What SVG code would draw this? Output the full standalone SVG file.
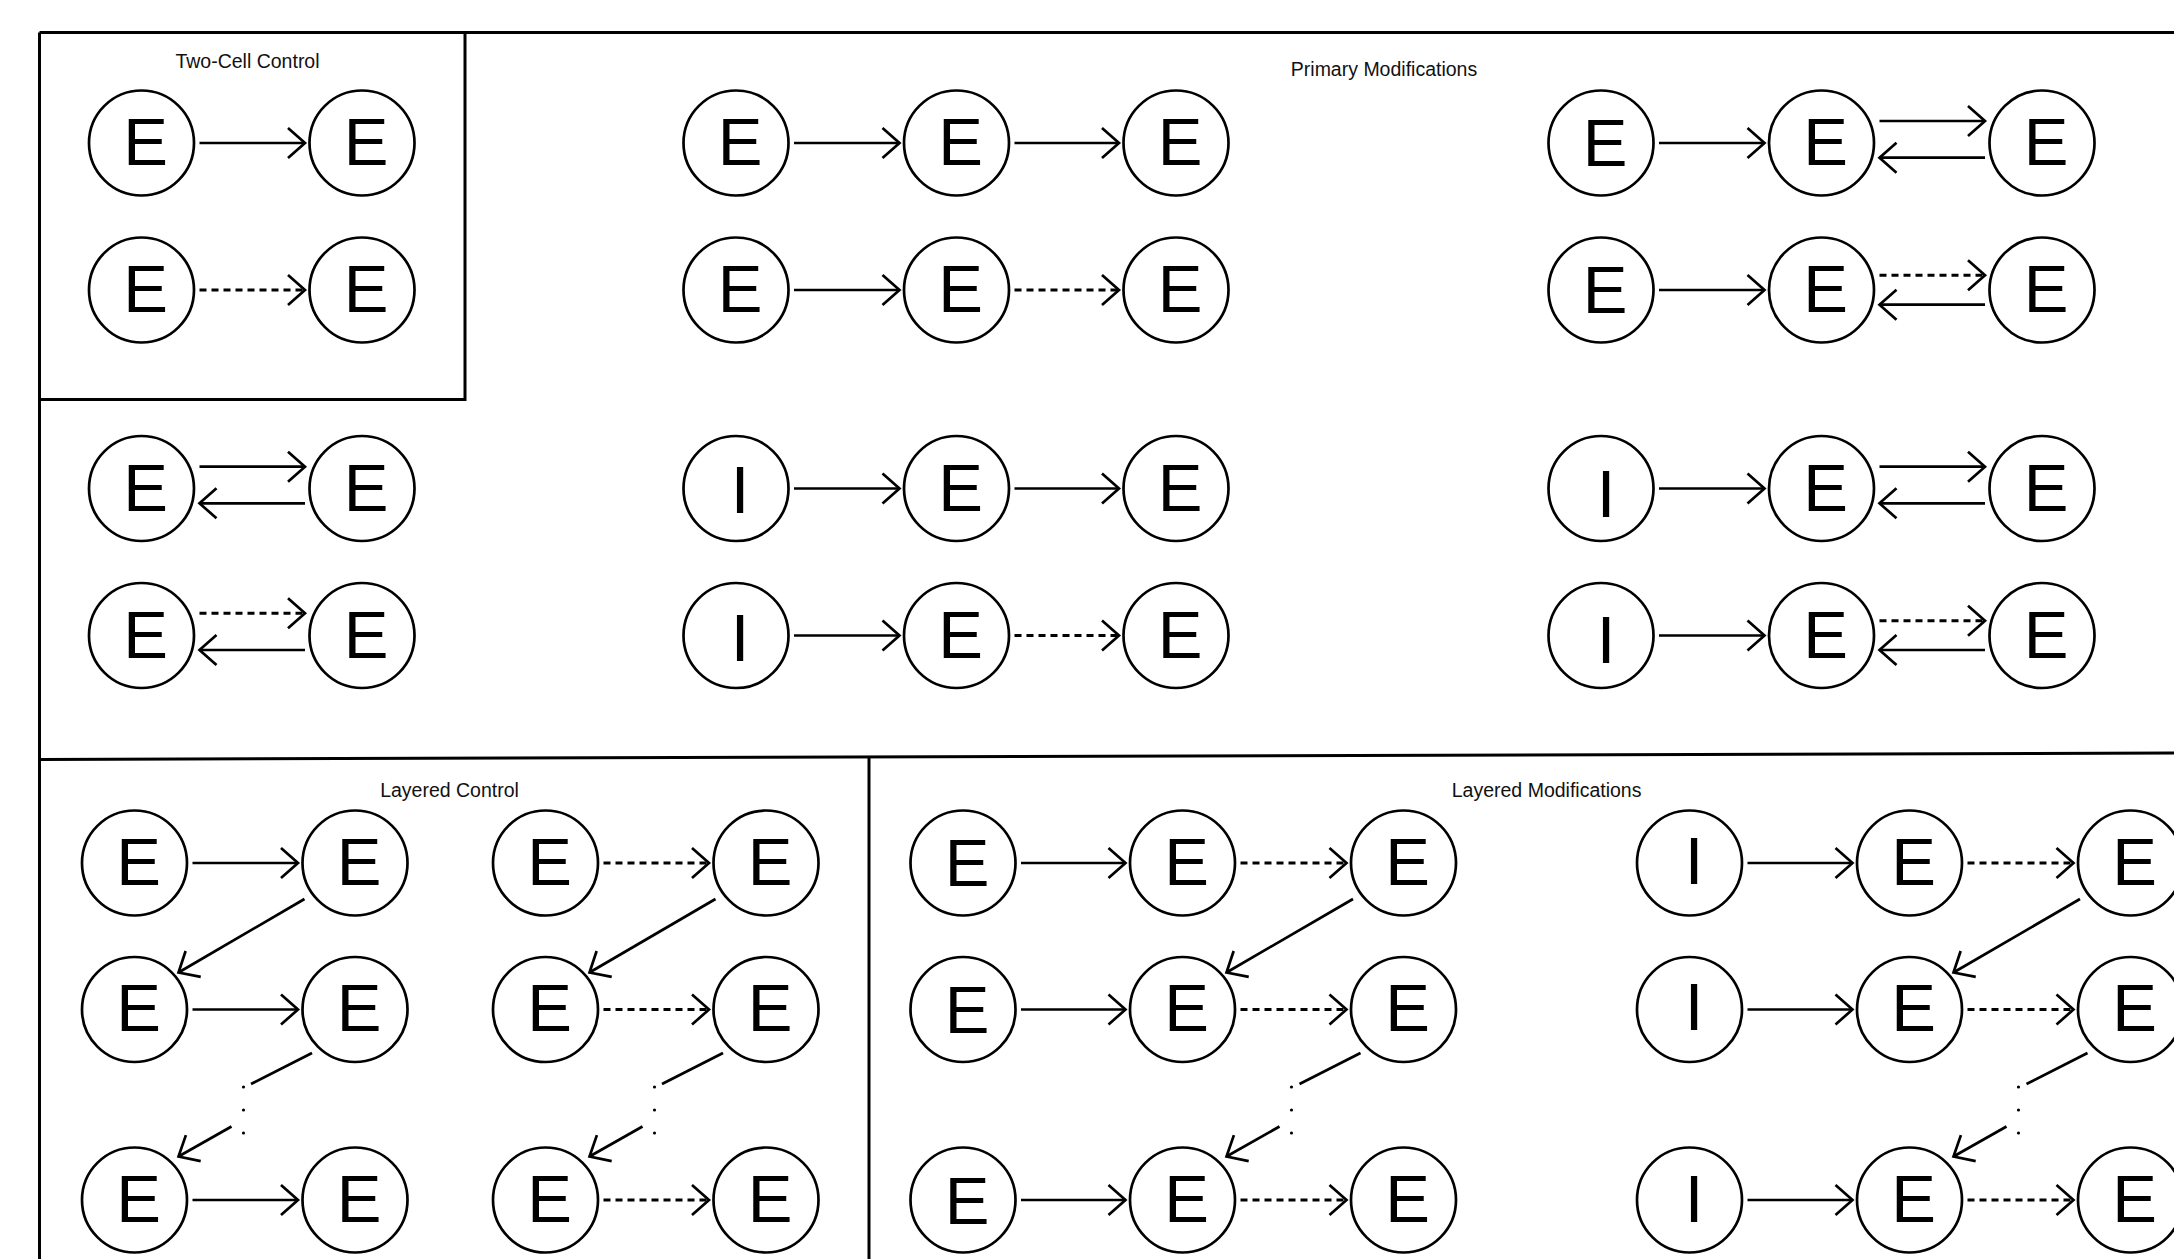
<svg xmlns="http://www.w3.org/2000/svg" width="2174" height="1259" viewBox="0 0 2174 1259">
  <style>
    .frame { fill: none; stroke: #000; stroke-width: 3; }
    .title { font-family: "Liberation Sans", Arial, sans-serif; font-size: 19.5px; fill: #111; text-anchor: middle; }
    .node circle { fill: #fff; stroke: #000; stroke-width: 2.7; }
    .node text { font-family: "Liberation Sans", Arial, sans-serif; font-size: 67px; fill: #000; text-anchor: middle; }
    .edge { fill: none; stroke: #000; stroke-width: 2.7; marker-end: url(#arr); }
    .dash { stroke-dasharray: 7 5; stroke-width: 2.9; }
    .plain { fill: none; stroke: #000; stroke-width: 2.7; }
    .dot { fill: #000; }
  </style>
  <defs>
    <marker id="arr" markerUnits="userSpaceOnUse" orient="auto" refX="0" refY="0" markerWidth="40" markerHeight="40" viewBox="-20 -20 40 40" overflow="visible">
      <path d="M-17,-15 L0,0 L-17,15" fill="none" stroke="#000" stroke-width="2.7" stroke-dasharray="none"/>
    </marker>
  </defs>
  <rect width="2174" height="1259" fill="#fff"/>

  <!-- panel borders -->
  <g id="frame" class="frame">
    <path d="M39.5,32.5 H2174"/>
    <path d="M39.5,32.5 V1259"/>
    <path d="M465,32.5 V399.5 H39.5"/>
    <path d="M39.5,759.5 L2174,753"/>
    <path d="M869,757 V1259"/>
  </g>

  <!-- panel titles -->
  <g id="titles" class="title">
    <text x="247.5" y="68.3">Two-Cell Control</text>
    <text x="1384" y="76">Primary Modifications</text>
    <text x="449.5" y="796.7">Layered Control</text>
    <text x="1546.6" y="796.7">Layered Modifications</text>
  </g>

  <!-- connectors -->
  <g id="connectors">
    <!-- two-cell control -->
    <path class="edge" d="M199.5,143 H305"/>
    <path class="edge dash" d="M199.5,290 H305"/>
    <!-- reciprocal pairs -->
    <path class="edge" d="M199.5,466.7 H305"/>
    <path class="edge" d="M305,503.3 H199.5"/>
    <path class="edge dash" d="M199.5,613.3 H305"/>
    <path class="edge" d="M305,650 H199.5"/>
    <!-- three-cell chains -->
    <path class="edge" d="M794,143 H899.5"/>
    <path class="edge" d="M1014.5,143 H1119"/>
    <path class="edge" d="M794,290 H899.5"/>
    <path class="edge dash" d="M1014.5,290 H1119"/>
    <path class="edge" d="M794,488.5 H899.5"/>
    <path class="edge" d="M1014.5,488.5 H1119"/>
    <path class="edge" d="M794,635.5 H899.5"/>
    <path class="edge dash" d="M1014.5,635.5 H1119"/>
    <!-- chains with feedback -->
    <path class="edge" d="M1659,143 H1764.5"/>
    <path class="edge" d="M1879.5,121 H1985"/>
    <path class="edge" d="M1985,157.7 H1879.5"/>
    <path class="edge" d="M1659,290 H1764.5"/>
    <path class="edge dash" d="M1879.5,275.3 H1985"/>
    <path class="edge" d="M1985,304.7 H1879.5"/>
    <path class="edge" d="M1659,488.5 H1764.5"/>
    <path class="edge" d="M1879.5,466.7 H1985"/>
    <path class="edge" d="M1985,503.3 H1879.5"/>
    <path class="edge" d="M1659,635.5 H1764.5"/>
    <path class="edge dash" d="M1879.5,620.7 H1985"/>
    <path class="edge" d="M1985,650 H1879.5"/>

    <!-- layered control, solid -->
    <path class="edge" d="M192.5,863 H298"/>
    <path class="edge" d="M192.5,1009.5 H298"/>
    <path class="edge" d="M192.5,1200 H298"/>
    <path class="edge" d="M304.5,899 L178.5,972.5"/>
    <path class="plain" d="M312,1053 L251,1084"/>
    <circle class="dot" cx="243.5" cy="1087" r="1.6"/>
    <circle class="dot" cx="243.5" cy="1110" r="1.6"/>
    <circle class="dot" cx="243.5" cy="1133" r="1.6"/>
    <path class="edge" d="M231.5,1126.5 L178.5,1156.5"/>
    <!-- layered control, dashed -->
    <path class="edge dash" d="M603.5,863 H709"/>
    <path class="edge dash" d="M603.5,1009.5 H709"/>
    <path class="edge dash" d="M603.5,1200 H709"/>
    <path class="edge" d="M715.5,899 L589.5,972.5"/>
    <path class="plain" d="M723,1053 L662,1084"/>
    <circle class="dot" cx="654.5" cy="1087" r="1.6"/>
    <circle class="dot" cx="654.5" cy="1110" r="1.6"/>
    <circle class="dot" cx="654.5" cy="1133" r="1.6"/>
    <path class="edge" d="M642.5,1126.5 L589.5,1156.5"/>

    <!-- layered modifications, excitatory input -->
    <path class="edge" d="M1021,863 H1125.5"/>
    <path class="edge dash" d="M1240.5,863 H1346.5"/>
    <path class="edge" d="M1021,1009.5 H1125.5"/>
    <path class="edge dash" d="M1240.5,1009.5 H1346.5"/>
    <path class="edge" d="M1021,1200 H1125.5"/>
    <path class="edge dash" d="M1240.5,1200 H1346.5"/>
    <path class="edge" d="M1353,899 L1226.5,972.5"/>
    <path class="plain" d="M1360.5,1053 L1299.5,1084"/>
    <circle class="dot" cx="1291.5" cy="1087" r="1.6"/>
    <circle class="dot" cx="1291.5" cy="1110" r="1.6"/>
    <circle class="dot" cx="1291.5" cy="1133" r="1.6"/>
    <path class="edge" d="M1279.5,1126.5 L1226.5,1156.5"/>
    <!-- layered modifications, inhibitory input -->
    <path class="edge" d="M1747.5,863 H1852.5"/>
    <path class="edge dash" d="M1967.5,863 H2073.5"/>
    <path class="edge" d="M1747.5,1009.5 H1852.5"/>
    <path class="edge dash" d="M1967.5,1009.5 H2073.5"/>
    <path class="edge" d="M1747.5,1200 H1852.5"/>
    <path class="edge dash" d="M1967.5,1200 H2073.5"/>
    <path class="edge" d="M2080,899 L1953.5,972.5"/>
    <path class="plain" d="M2087.5,1053 L2026.5,1084"/>
    <circle class="dot" cx="2018.5" cy="1087" r="1.6"/>
    <circle class="dot" cx="2018.5" cy="1110" r="1.6"/>
    <circle class="dot" cx="2018.5" cy="1133" r="1.6"/>
    <path class="edge" d="M2006.5,1126.5 L1953.5,1156.5"/>
  </g>

  <!-- cells -->
  <g id="tc-1a" class="node"><circle cx="141.5" cy="143" r="52.5"/><text x="145.5" y="165">E</text></g>
  <g id="tc-1b" class="node"><circle cx="362" cy="143" r="52.5"/><text x="366" y="165">E</text></g>
  <g id="tc-2a" class="node"><circle cx="141.5" cy="290" r="52.5"/><text x="145.5" y="312">E</text></g>
  <g id="tc-2b" class="node"><circle cx="362" cy="290" r="52.5"/><text x="366" y="312">E</text></g>

  <g id="pl-3a" class="node"><circle cx="141.5" cy="488.5" r="52.5"/><text x="145.5" y="510.5">E</text></g>
  <g id="pl-3b" class="node"><circle cx="362" cy="488.5" r="52.5"/><text x="366" y="510.5">E</text></g>
  <g id="pl-4a" class="node"><circle cx="141.5" cy="635.5" r="52.5"/><text x="145.5" y="657.5">E</text></g>
  <g id="pl-4b" class="node"><circle cx="362" cy="635.5" r="52.5"/><text x="366" y="657.5">E</text></g>

  <g id="pm-1a" class="node"><circle cx="736" cy="143" r="52.5"/><text x="740" y="165">E</text></g>
  <g id="pm-1b" class="node"><circle cx="956.5" cy="143" r="52.5"/><text x="960.5" y="165">E</text></g>
  <g id="pm-1c" class="node"><circle cx="1176" cy="143" r="52.5"/><text x="1180" y="165">E</text></g>
  <g id="pm-2a" class="node"><circle cx="736" cy="290" r="52.5"/><text x="740" y="312">E</text></g>
  <g id="pm-2b" class="node"><circle cx="956.5" cy="290" r="52.5"/><text x="960.5" y="312">E</text></g>
  <g id="pm-2c" class="node"><circle cx="1176" cy="290" r="52.5"/><text x="1180" y="312">E</text></g>
  <g id="pm-3a" class="node"><circle cx="736" cy="488.5" r="52.5"/><text x="740" y="513">I</text></g>
  <g id="pm-3b" class="node"><circle cx="956.5" cy="488.5" r="52.5"/><text x="960.5" y="510.5">E</text></g>
  <g id="pm-3c" class="node"><circle cx="1176" cy="488.5" r="52.5"/><text x="1180" y="510.5">E</text></g>
  <g id="pm-4a" class="node"><circle cx="736" cy="635.5" r="52.5"/><text x="740" y="660.5">I</text></g>
  <g id="pm-4b" class="node"><circle cx="956.5" cy="635.5" r="52.5"/><text x="960.5" y="657.5">E</text></g>
  <g id="pm-4c" class="node"><circle cx="1176" cy="635.5" r="52.5"/><text x="1180" y="657.5">E</text></g>

  <g id="pr-1a" class="node"><circle cx="1601" cy="143" r="52.5"/><text x="1605" y="166">E</text></g>
  <g id="pr-1b" class="node"><circle cx="1821.5" cy="143" r="52.5"/><text x="1825.5" y="165">E</text></g>
  <g id="pr-1c" class="node"><circle cx="2042" cy="143" r="52.5"/><text x="2046" y="165">E</text></g>
  <g id="pr-2a" class="node"><circle cx="1601" cy="290" r="52.5"/><text x="1605" y="313">E</text></g>
  <g id="pr-2b" class="node"><circle cx="1821.5" cy="290" r="52.5"/><text x="1825.5" y="312">E</text></g>
  <g id="pr-2c" class="node"><circle cx="2042" cy="290" r="52.5"/><text x="2046" y="312">E</text></g>
  <g id="pr-3a" class="node"><circle cx="1601" cy="488.5" r="52.5"/><text x="1606" y="516.5">I</text></g>
  <g id="pr-3b" class="node"><circle cx="1821.5" cy="488.5" r="52.5"/><text x="1825.5" y="510.5">E</text></g>
  <g id="pr-3c" class="node"><circle cx="2042" cy="488.5" r="52.5"/><text x="2046" y="510.5">E</text></g>
  <g id="pr-4a" class="node"><circle cx="1601" cy="635.5" r="52.5"/><text x="1606" y="663">I</text></g>
  <g id="pr-4b" class="node"><circle cx="1821.5" cy="635.5" r="52.5"/><text x="1825.5" y="657.5">E</text></g>
  <g id="pr-4c" class="node"><circle cx="2042" cy="635.5" r="52.5"/><text x="2046" y="657.5">E</text></g>

  <g id="lc-1a" class="node"><circle cx="134.5" cy="863" r="52.5"/><text x="138.5" y="884.5">E</text></g>
  <g id="lc-1b" class="node"><circle cx="355" cy="863" r="52.5"/><text x="359" y="884.5">E</text></g>
  <g id="lc-1c" class="node"><circle cx="545.5" cy="863" r="52.5"/><text x="549.5" y="884.5">E</text></g>
  <g id="lc-1d" class="node"><circle cx="766" cy="863" r="52.5"/><text x="770" y="884.5">E</text></g>
  <g id="lc-2a" class="node"><circle cx="134.5" cy="1009.5" r="52.5"/><text x="138.5" y="1031">E</text></g>
  <g id="lc-2b" class="node"><circle cx="355" cy="1009.5" r="52.5"/><text x="359" y="1031">E</text></g>
  <g id="lc-2c" class="node"><circle cx="545.5" cy="1009.5" r="52.5"/><text x="549.5" y="1031">E</text></g>
  <g id="lc-2d" class="node"><circle cx="766" cy="1009.5" r="52.5"/><text x="770" y="1031">E</text></g>
  <g id="lc-3a" class="node"><circle cx="134.5" cy="1200" r="52.5"/><text x="138.5" y="1221.5">E</text></g>
  <g id="lc-3b" class="node"><circle cx="355" cy="1200" r="52.5"/><text x="359" y="1221.5">E</text></g>
  <g id="lc-3c" class="node"><circle cx="545.5" cy="1200" r="52.5"/><text x="549.5" y="1221.5">E</text></g>
  <g id="lc-3d" class="node"><circle cx="766" cy="1200" r="52.5"/><text x="770" y="1221.5">E</text></g>

  <g id="lm-1a" class="node"><circle cx="963" cy="863" r="52.5"/><text x="967" y="886">E</text></g>
  <g id="lm-1b" class="node"><circle cx="1182.5" cy="863" r="52.5"/><text x="1186.5" y="884.5">E</text></g>
  <g id="lm-1c" class="node"><circle cx="1403.5" cy="863" r="52.5"/><text x="1407.5" y="884.5">E</text></g>
  <g id="lm-2a" class="node"><circle cx="963" cy="1009.5" r="52.5"/><text x="967" y="1033">E</text></g>
  <g id="lm-2b" class="node"><circle cx="1182.5" cy="1009.5" r="52.5"/><text x="1186.5" y="1031">E</text></g>
  <g id="lm-2c" class="node"><circle cx="1403.5" cy="1009.5" r="52.5"/><text x="1407.5" y="1031">E</text></g>
  <g id="lm-3a" class="node"><circle cx="963" cy="1200" r="52.5"/><text x="967" y="1223.5">E</text></g>
  <g id="lm-3b" class="node"><circle cx="1182.5" cy="1200" r="52.5"/><text x="1186.5" y="1221.5">E</text></g>
  <g id="lm-3c" class="node"><circle cx="1403.5" cy="1200" r="52.5"/><text x="1407.5" y="1221.5">E</text></g>
  <g id="lm-1d" class="node"><circle cx="1689.5" cy="863" r="52.5"/><text x="1694" y="884">I</text></g>
  <g id="lm-1e" class="node"><circle cx="1909.5" cy="863" r="52.5"/><text x="1913.5" y="884.5">E</text></g>
  <g id="lm-1f" class="node"><circle cx="2130.5" cy="863" r="52.5"/><text x="2134.5" y="884.5">E</text></g>
  <g id="lm-2d" class="node"><circle cx="1689.5" cy="1009.5" r="52.5"/><text x="1694" y="1030">I</text></g>
  <g id="lm-2e" class="node"><circle cx="1909.5" cy="1009.5" r="52.5"/><text x="1913.5" y="1031">E</text></g>
  <g id="lm-2f" class="node"><circle cx="2130.5" cy="1009.5" r="52.5"/><text x="2134.5" y="1031">E</text></g>
  <g id="lm-3d" class="node"><circle cx="1689.5" cy="1200" r="52.5"/><text x="1694" y="1221.5">I</text></g>
  <g id="lm-3e" class="node"><circle cx="1909.5" cy="1200" r="52.5"/><text x="1913.5" y="1221.5">E</text></g>
  <g id="lm-3f" class="node"><circle cx="2130.5" cy="1200" r="52.5"/><text x="2134.5" y="1221.5">E</text></g>
</svg>
